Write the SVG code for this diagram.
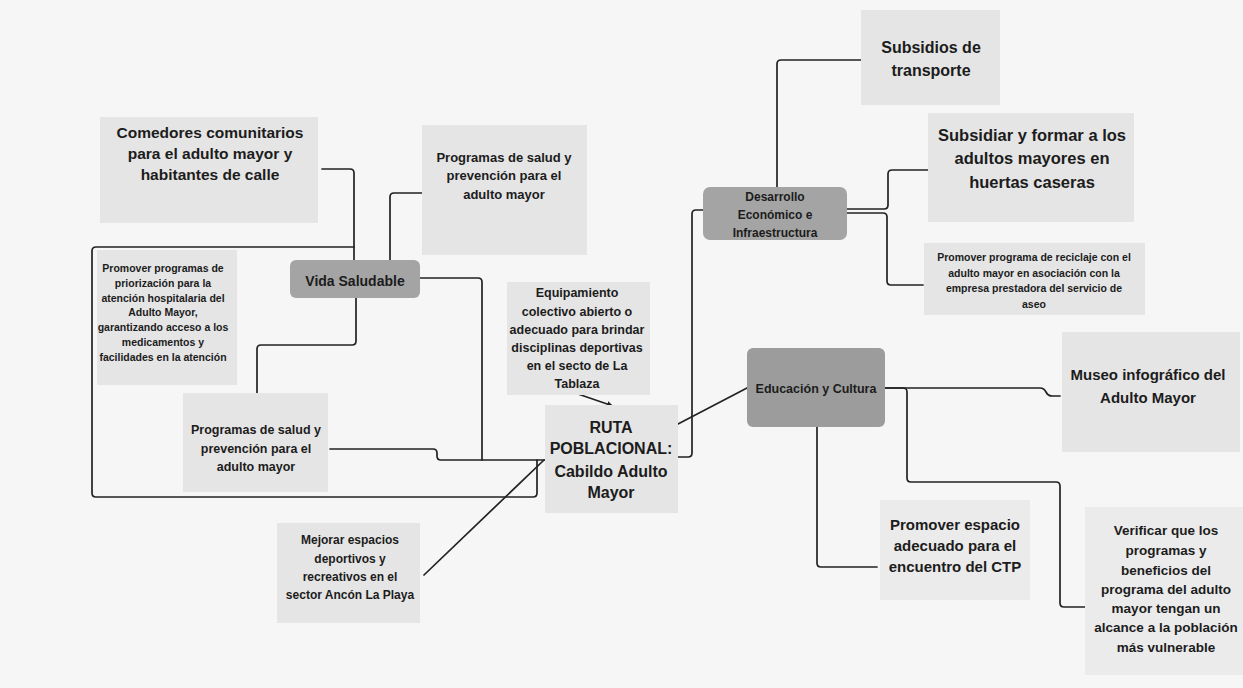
<svg xmlns="http://www.w3.org/2000/svg" width="1243" height="688" viewBox="0 0 1243 688">
<style>
.bg{fill:#f6f6f6}
.box{fill:#e5e5e5}
.pill{fill:#a4a4a4}
.t{font-family:"Liberation Sans",Arial,sans-serif;font-weight:bold;fill:#1c1c1c;text-anchor:middle}
.c{fill:none;stroke:#222;stroke-width:1.7;stroke-linecap:round;stroke-linejoin:round}
</style>
<defs>
<marker id="ah" markerWidth="8" markerHeight="8" refX="6" refY="3" orient="auto" markerUnits="userSpaceOnUse">
<path d="M0,0 L6,3 L0,6 Z" fill="#222"/>
</marker>
</defs>
<rect class="bg" x="0" y="0" width="1243" height="688"/>

<g id="connectors">
<path class="c" d="M322,169 H350 Q354,169 354,173 V260"/>
<path class="c" d="M354,247 H96 Q92,247 92,251 V493 Q92,497 96,497 H533 Q537,497 537,493 V460"/>
<path class="c" d="M390,279 V197 Q390,193 394,193 H422"/>
<path class="c" d="M420,278 H478 Q482,278 482,282 V460"/>
<path class="c" d="M330,449 H433 Q437,449 437,453 V456 Q437,460 441,460 H545"/>
<path class="c" d="M356,298 V341 Q356,345 352,345 H261 Q257,345 257,349 V393"/>
<path class="c" d="M424,575 L544,460"/>
<path class="c" d="M578,394 L613,406" marker-end="url(#ah)" stroke-width="1.3"/>
<path class="c" d="M678,457 H688 Q692,457 692,453 V214 Q692,210 696,210 H703"/>
<path class="c" d="M777,187 V64 Q777,60 781,60 H861"/>
<path class="c" d="M847,209 H884 Q888,209 888,205 V174 Q888,170 892,170 H928"/>
<path class="c" d="M847,213 H883 Q887,213 887,217 V281 Q887,285 891,285 H923"/>
<path class="c" d="M678,424 L747,388"/>
<path class="c" d="M885,388 H1040 Q1044,388 1046,392 Q1048,396 1052,396 H1060"/>
<path class="c" d="M885,388 H903 Q907,388 907,392 V478 Q907,482 911,482 H1056 Q1060,482 1060,486 V603 Q1060,607 1064,607 H1085"/>
<path class="c" d="M817,427 V563 Q817,567 821,567 H877"/>
</g>

<g id="comedores">
<rect class="box" x="100" y="117" width="218" height="106"/>
<text class="t" font-size="15.5"><tspan x="210" y="138">Comedores comunitarios</tspan><tspan x="210" y="159">para el adulto mayor y</tspan><tspan x="210" y="180">habitantes de calle</tspan></text>
</g>

<g id="programas-top">
<rect class="box" x="422" y="125" width="165" height="130"/>
<text class="t" font-size="13"><tspan x="504" y="162">Programas de salud y</tspan><tspan x="504" y="180">prevención para el</tspan><tspan x="504" y="199">adulto mayor</tspan></text>
</g>

<g id="vida-saludable">
<rect class="pill" x="290" y="260" width="130" height="38" rx="6"/>
<text class="t" font-size="14" x="355" y="286">Vida Saludable</text>
</g>

<g id="promover-priorizacion">
<rect class="box" x="97" y="250" width="140" height="135"/>
<text class="t" font-size="10.5"><tspan x="163" y="272">Promover programas de</tspan><tspan x="163" y="287">priorización para la</tspan><tspan x="163" y="302">atención hospitalaria del</tspan><tspan x="163" y="316">Adulto Mayor,</tspan><tspan x="163" y="331">garantizando acceso a los</tspan><tspan x="163" y="346">medicamentos y</tspan><tspan x="163" y="361">facilidades en la atención</tspan></text>
</g>

<g id="programas-bottom">
<rect class="box" x="183" y="393" width="145" height="99"/>
<text class="t" font-size="12.5"><tspan x="256" y="434">Programas de salud y</tspan><tspan x="256" y="453">prevención para el</tspan><tspan x="256" y="471">adulto mayor</tspan></text>
</g>

<g id="equipamiento">
<rect class="box" x="507" y="282" width="143" height="113"/>
<text class="t" font-size="12.5"><tspan x="577" y="297">Equipamiento</tspan><tspan x="577" y="316">colectivo abierto o</tspan><tspan x="577" y="334">adecuado para brindar</tspan><tspan x="577" y="352">disciplinas deportivas</tspan><tspan x="577" y="370">en el secto de La</tspan><tspan x="577" y="388">Tablaza</tspan></text>
</g>

<g id="ruta">
<rect class="box" x="545" y="405" width="133" height="108"/>
<text class="t" font-size="16"><tspan x="611" y="433">RUTA</tspan><tspan x="611" y="454">POBLACIONAL:</tspan><tspan x="611" y="477">Cabildo Adulto</tspan><tspan x="611" y="498">Mayor</tspan></text>
</g>

<g id="mejorar">
<rect class="box" x="277" y="523" width="143" height="100"/>
<text class="t" font-size="12"><tspan x="350" y="544">Mejorar espacios</tspan><tspan x="350" y="563">deportivos y</tspan><tspan x="350" y="581">recreativos en el</tspan><tspan x="350" y="599">sector Ancón La Playa</tspan></text>
</g>

<g id="desarrollo">
<rect class="pill" x="703" y="187" width="144" height="53" rx="7"/>
<text class="t" font-size="12"><tspan x="775" y="201">Desarrollo</tspan><tspan x="775" y="219">Económico e</tspan><tspan x="775" y="237">Infraestructura</tspan></text>
</g>

<g id="subsidios">
<rect class="box" x="861" y="10" width="139" height="95"/>
<text class="t" font-size="16"><tspan x="931" y="53">Subsidios de</tspan><tspan x="931" y="76">transporte</tspan></text>
</g>

<g id="subsidiar">
<rect class="box" x="928" y="113" width="206" height="109"/>
<text class="t" font-size="16.5"><tspan x="1032" y="141">Subsidiar y formar a los</tspan><tspan x="1032" y="164">adultos mayores en</tspan><tspan x="1032" y="188">huertas caseras</tspan></text>
</g>

<g id="reciclaje">
<rect class="box" x="924" y="243" width="221" height="72"/>
<text class="t" font-size="10.5"><tspan x="1034" y="261">Promover programa de reciclaje con el</tspan><tspan x="1034" y="277">adulto mayor en asociación con la</tspan><tspan x="1034" y="292">empresa prestadora del servicio de</tspan><tspan x="1034" y="308">aseo</tspan></text>
</g>

<g id="educacion">
<rect class="pill" x="747" y="348" width="138" height="79" rx="6" fill="#9c9c9c" style="fill:#9c9c9c"/>
<text class="t" font-size="12.5" x="816" y="393">Educación y Cultura</text>
</g>

<g id="museo">
<rect class="box" x="1062" y="332" width="178" height="120"/>
<text class="t" font-size="15"><tspan x="1148" y="380">Museo infográfico del</tspan><tspan x="1148" y="403">Adulto Mayor</tspan></text>
</g>

<g id="promover-espacio">
<rect class="box" x="880" y="500" width="150" height="100" style="fill:#ebebeb"/>
<text class="t" font-size="15"><tspan x="955" y="530">Promover espacio</tspan><tspan x="955" y="551">adecuado para el</tspan><tspan x="955" y="572">encuentro del CTP</tspan></text>
</g>

<g id="verificar">
<rect class="box" x="1085" y="507" width="158" height="168" style="fill:#ebebeb"/>
<text class="t" font-size="13.5"><tspan x="1166" y="535">Verificar que los</tspan><tspan x="1166" y="555">programas y</tspan><tspan x="1166" y="575">beneficios del</tspan><tspan x="1166" y="594">programa del adulto</tspan><tspan x="1166" y="613">mayor tengan un</tspan><tspan x="1166" y="632">alcance a la población</tspan><tspan x="1166" y="652">más vulnerable</tspan></text>
</g>
</svg>
